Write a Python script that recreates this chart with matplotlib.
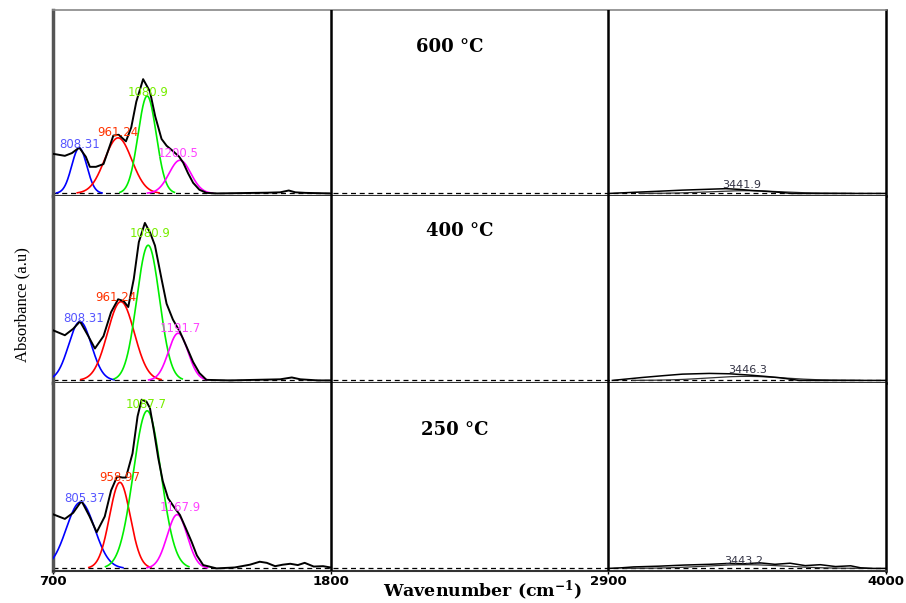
import numpy as np
import matplotlib
matplotlib.use("Agg")
import matplotlib.pyplot as plt

plt.rcParams['mathtext.fontset'] = 'dejavuserif'

# ---------------- data ----------------
panel_titles = ["600 °C", "400 °C", "250 °C"]
tick_values = [700, 1800, 2900, 4000]
tick_labels = ["700", "1800", "2900", "4000"]

# black measured spectra (left region 700-1800, right region 2900-4000)
wn_600_left = [700, 747, 775, 804, 830, 846, 870, 900, 939, 960, 989, 1010, 1030, 1057, 1084,
               1105, 1130, 1150, 1176, 1200, 1216, 1235, 1255, 1280, 1308, 1350, 1450, 1550,
               1600, 1634, 1660, 1700, 1800]
ab_600_left = [0.216, 0.205, 0.22, 0.25, 0.2, 0.145, 0.145, 0.16, 0.315, 0.32, 0.284, 0.36, 0.5,
               0.623, 0.556, 0.42, 0.297, 0.26, 0.23, 0.2, 0.167, 0.11, 0.058, 0.02, 0.003, 0.0,
               0.002, 0.004, 0.006, 0.016, 0.006, 0.003, 0.0]
wn_600_right = [2904, 3000, 3100, 3193, 3280, 3366, 3420, 3470, 3520, 3580, 3628, 3700, 4000]
ab_600_right = [0.0, 0.006, 0.012, 0.018, 0.022, 0.026, 0.022, 0.016, 0.012, 0.006, 0.0, 0.0, 0.0]

wn_400_left = [700, 747, 780, 807, 840, 866, 900, 930, 958, 980, 998, 1020, 1040, 1064, 1085,
               1104, 1130, 1150, 1175, 1203, 1230, 1255, 1280, 1308, 1400, 1500, 1600, 1646,
               1680, 1750, 1800]
ab_400_left = [0.272, 0.245, 0.28, 0.32, 0.24, 0.173, 0.24, 0.37, 0.44, 0.43, 0.398, 0.55, 0.75,
               0.854, 0.8, 0.731, 0.55, 0.416, 0.33, 0.263, 0.18, 0.10, 0.04, 0.003, 0.0, 0.003,
               0.006, 0.016, 0.006, 0.0, 0.0]
wn_400_right = [2916, 3035, 3120, 3193, 3300, 3380, 3458, 3520, 3577, 3656, 4000]
ab_400_right = [0.0, 0.016, 0.026, 0.034, 0.038, 0.036, 0.029, 0.022, 0.015, 0.0, 0.0]

wn_250_left = [700, 747, 780, 813, 845, 873, 905, 930, 954, 975, 989, 1015, 1035, 1051, 1070,
               1084, 1100, 1117, 1135, 1156, 1180, 1203, 1225, 1249, 1270, 1295, 1348, 1420,
               1480, 1519, 1547, 1580, 1610, 1640, 1670, 1697, 1733, 1770, 1800]
ab_250_left = [0.292, 0.267, 0.3, 0.364, 0.28, 0.195, 0.28, 0.42, 0.496, 0.49, 0.49, 0.62, 0.82,
               0.91, 0.9, 0.865, 0.74, 0.595, 0.47, 0.378, 0.33, 0.288, 0.22, 0.144, 0.07, 0.018,
               0.0, 0.005, 0.02, 0.036, 0.03, 0.012, 0.02, 0.025, 0.018, 0.03, 0.01, 0.012, 0.005]
wn_250_right = [2900, 2950, 3000, 3100, 3200, 3300, 3380, 3440, 3500, 3560, 3620, 3680, 3740,
                3800, 3860, 3900, 3950, 4000]
ab_250_right = [0.0, 0.003, 0.008, 0.012, 0.018, 0.022, 0.027, 0.025, 0.03, 0.022, 0.028, 0.015,
                0.02, 0.01, 0.014, 0.003, 0.0, 0.0]

# fitted Gaussian components: centre (cm-1), height, sigma (cm-1)
comp_colors = ["#0000ff", "#ff0000", "#00ee00", "#ff00ff"]
label_colors = ["#5555ff", "#ff3300", "#77ee00", "#ff44ff"]

centers_600 = [804, 958, 1073, 1203]
heights_600 = [0.248, 0.303, 0.531, 0.181]
sigmas_600 = [30, 54, 36, 43]
labels_600 = ["808.31", "961.24", "1080.9", "1200.5"]
labpos_600_x = [804, 958, 1076, 1195]
labpos_600_y = [0.265, 0.33, 0.55, 0.215]

centers_400 = [807, 969, 1077, 1196]
heights_400 = [0.319, 0.427, 0.733, 0.256]
sigmas_400 = [45, 53, 45, 39]
labels_400 = ["808.31", "961.24", "1080.9", "1191.7"]
labpos_400_x = [820, 949, 1086, 1205]
labpos_400_y = [0.335, 0.449, 0.795, 0.281]

centers_250 = [809, 965, 1073, 1192]
heights_250 = [0.357, 0.464, 0.85, 0.29]
sigmas_250 = [56, 41, 55, 40]
labels_250 = ["805.37", "958.97", "1087.7", "1167.9"]
labpos_250_x = [825, 965, 1068, 1203]
labpos_250_y = [0.378, 0.49, 0.883, 0.33]

# OH band component (right region)
oh_centers = [3441.9, 3446.3, 3443.2]
oh_heights = [0.015, 0.022, 0.02]
oh_sigmas = [140, 150, 160]
oh_labels = ["3441.9", "3446.3", "3443.2"]
oh_lab_x = [3427, 3450, 3438]
oh_lab_y = [0.045, 0.055, 0.04]

title_x = [2271, 2311, 2291]
title_y = [0.80, 0.81, 0.745]

panels = [
    (wn_600_left, ab_600_left, wn_600_right, ab_600_right, centers_600, heights_600, sigmas_600,
     labels_600, labpos_600_x, labpos_600_y),
    (wn_400_left, ab_400_left, wn_400_right, ab_400_right, centers_400, heights_400, sigmas_400,
     labels_400, labpos_400_x, labpos_400_y),
    (wn_250_left, ab_250_left, wn_250_right, ab_250_right, centers_250, heights_250, sigmas_250,
     labels_250, labpos_250_x, labpos_250_y),
]

# ---------------- figure ----------------
W, H = 906, 603
fig = plt.figure(figsize=(W / 100, H / 100), dpi=100)
bounds = [10, 196, 383, 571]
x0, x1 = 53, 886


def gauss(x, c, h, s):
    return h * np.exp(-0.5 * ((x - c) / s) ** 2)


for i, p in enumerate(panels):
    (wl, al, wr, ar, cs, hs, ss, labs, lx, ly) = p
    top, bot = bounds[i], bounds[i + 1]
    ax = fig.add_axes([x0 / W, 1 - bot / H, (x1 - x0) / W, (bot - top) / H])
    ax.set_xlim(700, 4000)
    ax.set_ylim(-0.014, 1.0)

    ax.axhline(0, color="black", lw=0.9, ls=(0, (4, 3)), zorder=1)
    for xv in (1800, 2900):
        ax.axvline(xv, color="black", lw=1.8, zorder=5)

    for c, h, s, col in zip(cs, hs, ss, comp_colors):
        xx = np.linspace(max(700, c - 3 * s), c + 3 * s, 200)
        ax.plot(xx, gauss(xx, c, h, s), color=col, lw=1.2, zorder=3)

    xx = np.linspace(oh_centers[i] - 3 * oh_sigmas[i], oh_centers[i] + 3 * oh_sigmas[i], 200)
    ax.plot(xx, gauss(xx, oh_centers[i], oh_heights[i], oh_sigmas[i]), color="#333333", lw=0.9,
            zorder=3)

    ax.plot(wl, al, color="black", lw=1.4, zorder=4)
    ax.plot(wr, ar, color="black", lw=1.1, zorder=4)

    for t, xx_, yy_, col in zip(labs, lx, ly, label_colors):
        ax.text(xx_, yy_, t, color=col, fontsize=8.5, family="DejaVu Sans",
                ha="center", va="center", zorder=6)
    ax.text(oh_lab_x[i], oh_lab_y[i], oh_labels[i], color="#333344", fontsize=8,
            family="DejaVu Sans", ha="center", va="center", zorder=6)

    ax.text(title_x[i], title_y[i], panel_titles[i], fontsize=13, fontweight="bold",
            family="DejaVu Serif", ha="center", va="center")

    ax.set_yticks([])
    ax.spines["left"].set_color("#555555")
    ax.spines["left"].set_linewidth(2.5)
    ax.spines["right"].set_color("black")
    ax.spines["right"].set_linewidth(1.8)
    ax.spines["bottom"].set_color("#333333")
    ax.spines["bottom"].set_linewidth(1.5)
    if i == 0:
        ax.spines["top"].set_color("#888888")
        ax.spines["top"].set_linewidth(1.2)
    else:
        ax.spines["top"].set_visible(False)

    if i == 2:
        ax.set_xticks(tick_values)
        ax.set_xticklabels(tick_labels, fontsize=9.5, fontweight="bold", family="DejaVu Sans")
        ax.tick_params(axis="x", length=2, width=1, pad=1)
    else:
        ax.set_xticks([])

fig.text(483 / W, 1 - 591 / H, r"Wavenumber (cm$^{\mathbf{-1}}$)", fontsize=12.5,
         fontweight="bold", family="DejaVu Serif", ha="center", va="center")
fig.text(22 / W, 1 - 305 / H, "Absorbance (a.u)", fontsize=12, family="Liberation Serif",
         rotation=90, ha="center", va="center")

fig.savefig("out.png", dpi=100)
